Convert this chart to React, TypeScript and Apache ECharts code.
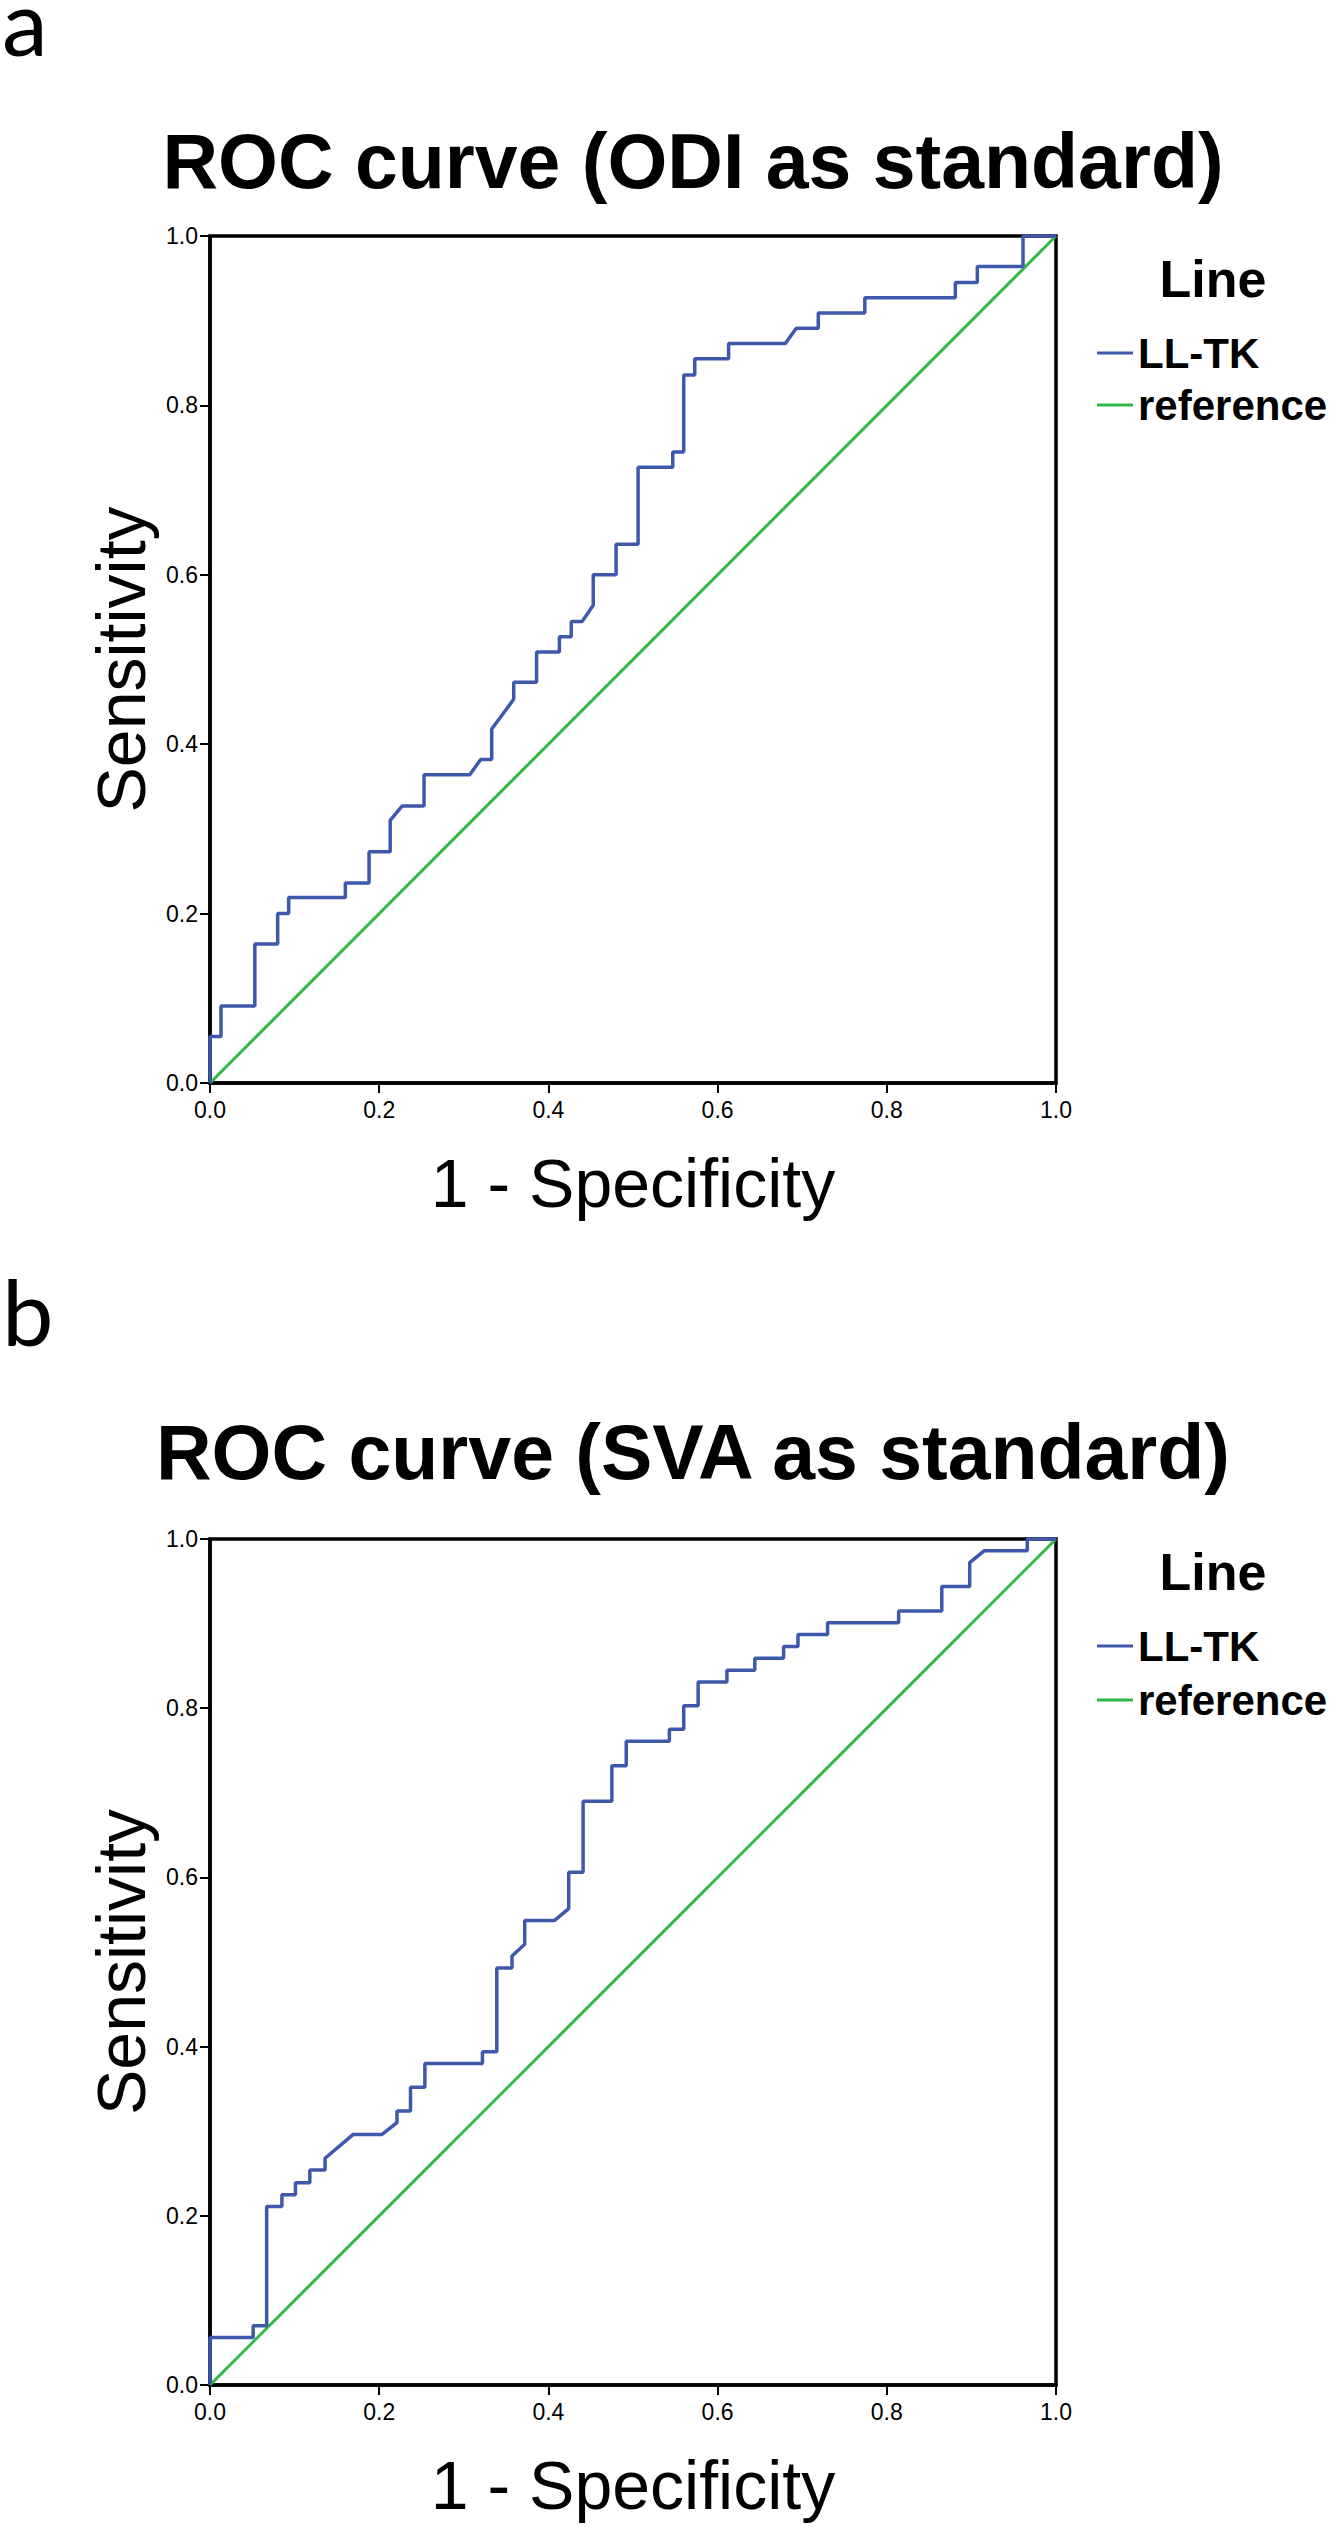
import React, { useEffect, useRef } from "react";
import * as echarts from "echarts";

// ---- Data ----
const panelLetters = ["a", "b"];
const panelTitles = ["ROC curve (ODI as standard)", "ROC curve (SVA as standard)"];
const legendTitle = "Line";
const seriesNames = ["LL-TK", "reference"];
const axisTicks = [0, 0.2, 0.4, 0.6, 0.8, 1.0];
const xAxisTitle = "1 - Specificity";
const yAxisTitle = "Sensitivity";

// Panel a: ROC points of LL-TK with ODI as the standard
const odiFpr = [
  0, 0, 0.013, 0.013, 0.053, 0.053, 0.08, 0.08, 0.093, 0.093, 0.16, 0.16, 0.188, 0.188,
  0.213, 0.213, 0.227, 0.253, 0.253, 0.307, 0.32, 0.333, 0.333, 0.359, 0.359, 0.386,
  0.386, 0.413, 0.413, 0.427, 0.427, 0.44, 0.453, 0.453, 0.48, 0.48, 0.506, 0.506,
  0.547, 0.547, 0.56, 0.56, 0.573, 0.573, 0.613, 0.613, 0.68, 0.693, 0.719, 0.719,
  0.774, 0.774, 0.881, 0.881, 0.907, 0.907, 0.961, 0.961, 1.0,
];
const odiTpr = [
  0, 0.055, 0.055, 0.091, 0.091, 0.164, 0.164, 0.2, 0.2, 0.219, 0.219, 0.236, 0.236, 0.273,
  0.273, 0.31, 0.327, 0.327, 0.364, 0.364, 0.382, 0.382, 0.418, 0.453, 0.473, 0.473,
  0.509, 0.509, 0.527, 0.527, 0.545, 0.545, 0.564, 0.6, 0.6, 0.636, 0.636, 0.727,
  0.727, 0.745, 0.745, 0.836, 0.836, 0.855, 0.855, 0.873, 0.873, 0.891, 0.891, 0.909,
  0.909, 0.927, 0.927, 0.945, 0.945, 0.964, 0.964, 1.0, 1.0,
];

// Panel b: ROC points of LL-TK with SVA as the standard
const svaFpr = [
  0, 0, 0.051, 0.051, 0.067, 0.067, 0.085, 0.085, 0.101, 0.101, 0.118, 0.118, 0.136, 0.136,
  0.169, 0.203, 0.221, 0.221, 0.237, 0.237, 0.254, 0.254, 0.322, 0.322, 0.339, 0.339,
  0.357, 0.357, 0.372, 0.372, 0.407, 0.424, 0.424, 0.441, 0.441, 0.475, 0.475, 0.492,
  0.492, 0.543, 0.543, 0.56, 0.56, 0.577, 0.577, 0.611, 0.611, 0.644, 0.644, 0.678,
  0.678, 0.695, 0.695, 0.73, 0.73, 0.814, 0.814, 0.865, 0.865, 0.898, 0.898, 0.915,
  0.966, 0.966, 1.0,
];
const svaTpr = [
  0, 0.056, 0.056, 0.07, 0.07, 0.211, 0.211, 0.225, 0.225, 0.239, 0.239, 0.254, 0.254, 0.268,
  0.296, 0.296, 0.31, 0.324, 0.324, 0.352, 0.352, 0.38, 0.38, 0.394, 0.394, 0.493,
  0.493, 0.507, 0.521, 0.549, 0.549, 0.563, 0.606, 0.606, 0.69, 0.69, 0.732, 0.732,
  0.761, 0.761, 0.775, 0.775, 0.803, 0.803, 0.831, 0.831, 0.845, 0.845, 0.859, 0.859,
  0.873, 0.873, 0.887, 0.887, 0.901, 0.901, 0.915, 0.915, 0.944, 0.944, 0.972, 0.986,
  0.986, 1.0, 1.0,
];

// Diagonal reference line
const refFpr = [0, 1];
const refTpr = [0, 1];

// ---- Styling ----
const FONT = '"Liberation Sans", Arial, Helvetica, sans-serif';
const BLUE = "#3e58ac";
const GREEN = "#2eb848";

const zip = (xs: number[], ys: number[]) => xs.map((x, i) => [x, ys[i]]);

export default function App() {
  const ref = useRef<HTMLDivElement>(null);

  useEffect(() => {
    if (!ref.current) return;
    const chart = echarts.init(ref.current, undefined, { renderer: "svg" });

    const grids = [
      { left: 210, top: 236, width: 846, height: 847 },
      { left: 210, top: 1539, width: 846, height: 846 },
    ];
    const titleTops = [122, 1413];
    const lineTitleTops = [253, 1546];
    const legendTops = [332, 1625];
    const legendGaps = [10, 12];
    const letterTops = [0, 1290];

    const curves = [zip(odiFpr, odiTpr), zip(svaFpr, svaTpr)];
    const refLine = zip(refFpr, refTpr);

    const axisCommon = {
      type: "value" as const,
      min: axisTicks[0],
      max: axisTicks[axisTicks.length - 1],
      interval: 0.2,
      splitLine: { show: false },
      axisLine: { show: true, onZero: false, lineStyle: { color: "#000", width: 3.5 } },
      axisTick: { show: true, length: 10, lineStyle: { color: "#000", width: 2 } },
      nameLocation: "middle" as const,
      nameTextStyle: { fontSize: 68, color: "#000", fontFamily: FONT },
    };

    const option: any = {
      animation: false,
      backgroundColor: "#fff",
      title: [0, 1].flatMap((i) => [
        {
          text: panelTitles[i],
          left: 693,
          top: titleTops[i],
          textAlign: "center",
          padding: 0,
          textStyle: { fontSize: 77, fontWeight: "bold", color: "#000", fontFamily: FONT },
        },
        {
          text: legendTitle,
          left: 1213,
          top: lineTitleTops[i],
          textAlign: "center",
          padding: 0,
          textStyle: { fontSize: 52, fontWeight: "bold", color: "#000", fontFamily: FONT },
        },
        {
          text: panelLetters[i],
          left: 2,
          top: letterTops[i],
          padding: 0,
          textStyle: {
            fontSize: 92,
            lineHeight: 40,
            fontWeight: "normal",
            color: "#000",
            fontFamily: "Lato, 'Open Sans', sans-serif",
          },
        },
      ]),
      legend: [0, 1].map((i) => ({
        data: seriesNames.map((n) => ({ name: n, icon: "rect" })),
        orient: "vertical",
        left: 1097,
        top: legendTops[i],
        padding: 0,
        itemWidth: 36,
        itemHeight: 3,
        itemGap: legendGaps[i],
        selectedMode: false,
        textStyle: { fontSize: 42, fontWeight: "bold", color: "#000", fontFamily: FONT },
      })),
      grid: grids.map((g) => ({
        ...g,
        show: true,
        borderColor: "#000",
        borderWidth: 3.5,
        backgroundColor: "transparent",
        containLabel: false,
      })),
      xAxis: [0, 1].map((i) => ({
        ...axisCommon,
        gridIndex: i,
        name: xAxisTitle,
        nameGap: 66,
        axisLabel: {
          formatter: (v: number) => v.toFixed(1),
          fontSize: 23,
          color: "#000",
          fontFamily: FONT,
          margin: 15,
        },
      })),
      yAxis: [0, 1].map((i) => ({
        ...axisCommon,
        gridIndex: i,
        name: yAxisTitle,
        nameGap: 55,
        axisLabel: {
          formatter: (v: number) => v.toFixed(1),
          fontSize: 23,
          color: "#000",
          fontFamily: FONT,
          margin: 12,
          padding: [8, 0, 0, 0],
        },
      })),
      series: [0, 1].flatMap((i) => [
        {
          type: "line",
          name: seriesNames[0],
          xAxisIndex: i,
          yAxisIndex: i,
          data: curves[i],
          symbol: "none",
          showSymbol: false,
          lineStyle: { color: BLUE, width: 3.5 },
          itemStyle: { color: BLUE },
          z: 3,
        },
        {
          type: "line",
          name: seriesNames[1],
          xAxisIndex: i,
          yAxisIndex: i,
          data: refLine,
          symbol: "none",
          showSymbol: false,
          lineStyle: { color: GREEN, width: 3 },
          itemStyle: { color: GREEN },
          z: 2,
        },
      ]),
    };

    chart.setOption(option);
    return () => chart.dispose();
  }, []);

  return (
    <div
      ref={ref}
      style={{ position: "absolute", left: 0, top: 0, width: 1333, height: 2527, background: "#fff" }}
    />
  );
}
